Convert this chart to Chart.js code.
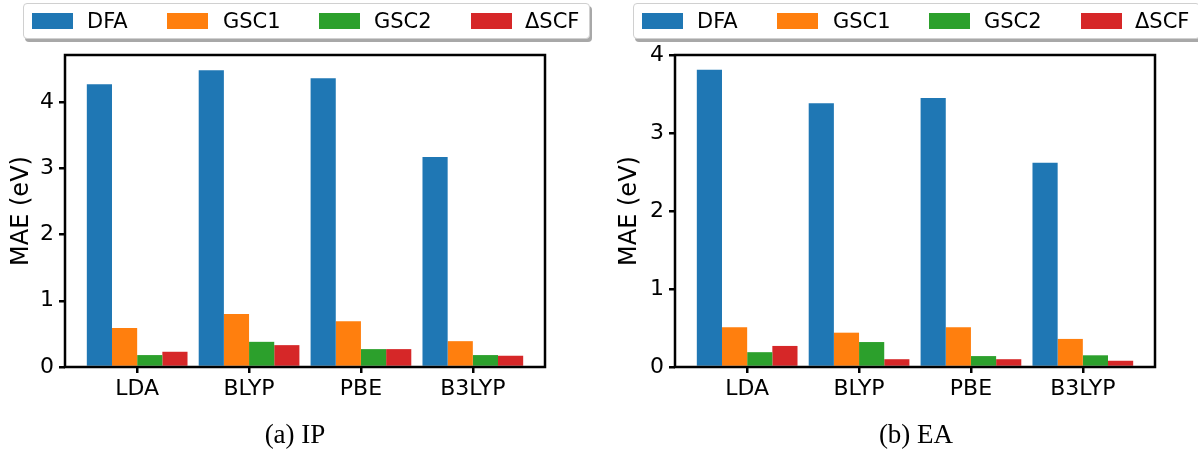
<!DOCTYPE html>
<html>
<head>
<meta charset="utf-8">
<script src="https://cdn.jsdelivr.net/npm/chart.js@4"></script>
<style>
  body { margin: 0; width: 1198px; height: 452px; background: #fff; position: relative; overflow: hidden; font-family: "DejaVu Sans", sans-serif; }
  .panel { position: absolute; top: 0; height: 452px; }
  .legend { position: absolute; top: 3px; width: 565px; height: 34px; border: 1px solid #d0d0d0; border-radius: 4px; background: #fff; box-shadow: 2px 3px 0 #a8a8a8; }
  .swatch { position: absolute; top: 9px; width: 41px; height: 16px; }
  .label { position: absolute; top: 0; line-height: 34px; font-size: 21px; color: #000; white-space: nowrap; }
  .caption { position: absolute; top: 419px; font-family: "Liberation Serif", serif; font-size: 27px; color: #000; transform: translateX(-50%); white-space: nowrap; }
</style>
</head>
<body>
<div class="panel" style="left:0;width:600px"><canvas id="ipChart"></canvas></div>
<div class="panel" style="left:600px;width:598px"><canvas id="eaChart"></canvas></div>
<div class="legend" id="ipLegend" style="left:23px"></div>
<div class="legend" id="eaLegend" style="left:633px"></div>
<div class="caption" style="left:295px">(a) IP</div>
<div class="caption" style="left:916px">(b) EA</div>
<script>
// values (eV)
const methods = ['LDA', 'BLYP', 'PBE', 'B3LYP'];
const seriesNames = ['DFA', 'GSC1', 'GSC2', 'ΔSCF'];
const seriesColors = ['#1f77b4', '#ff7f0e', '#2ca02c', '#d62728'];

const ipDFA = [4.27, 4.48, 4.36, 3.17];
const ipGSC1 = [0.59, 0.80, 0.69, 0.39];
const ipGSC2 = [0.18, 0.38, 0.27, 0.18];
const ipDSCF = [0.23, 0.33, 0.27, 0.17];

const eaDFA = [3.81, 3.38, 3.45, 2.62];
const eaGSC1 = [0.51, 0.44, 0.51, 0.36];
const eaGSC2 = [0.19, 0.32, 0.14, 0.15];
const eaDSCF = [0.27, 0.10, 0.10, 0.08];

const yTicks = [0, 1, 2, 3, 4];
const yMaxIP = 4.71;
const yMaxEA = 4.0;

// legend items placed like the matplotlib expand-mode legend
const swatchX = [8, 143, 295, 447];
const labelX = [63, 199, 350, 501];

function buildLegend(id) {
    const box = document.getElementById(id);
    seriesNames.forEach((name, i) => {
        const sw = document.createElement('div');
        sw.className = 'swatch';
        sw.style.left = swatchX[i] + 'px';
        sw.style.background = seriesColors[i];
        box.appendChild(sw);
        const lb = document.createElement('div');
        lb.className = 'label';
        lb.style.left = labelX[i] + 'px';
        lb.textContent = name;
        box.appendChild(lb);
    });
}

// black box around the plot area
const framePlugin = {
    id: 'frame',
    afterDraw(chart) {
        const { ctx, chartArea: a } = chart;
        ctx.save();
        ctx.strokeStyle = '#000';
        ctx.lineWidth = 2.5;
        ctx.strokeRect(a.left, a.top, a.right - a.left, a.bottom - a.top);
        ctx.restore();
    }
};

function makeChart(canvasId, seriesData, yMax, pad, yAxisWidth, titlePad) {
    const ctx = document.getElementById(canvasId).getContext('2d');
    return new Chart(ctx, {
        type: 'bar',
        data: {
            datasets: seriesData.map((vals, s) => ({
                label: seriesNames[s],
                data: vals.map((v, i) => ({ x: i, y: v })),
                backgroundColor: seriesColors[s],
                borderWidth: 0,
                categoryPercentage: 0.9,
                barPercentage: 1.0
            }))
        },
        options: {
            responsive: true,
            maintainAspectRatio: false,
            animation: false,
            layout: { padding: pad },
            plugins: { legend: { display: false }, tooltip: { enabled: false } },
            scales: {
                x: {
                    type: 'linear',
                    min: -0.645,
                    max: 3.645,
                    offset: false,
                    afterBuildTicks: (scale) => { scale.ticks = methods.map((m, i) => ({ value: i })); },
                    afterFit: (scale) => { scale.height = 40; scale.paddingLeft = 0; scale.paddingRight = 0; },
                    ticks: {
                        callback: (v) => methods[v],
                        color: '#000',
                        font: { family: 'DejaVu Sans', size: 22 },
                        padding: 3,
                        maxRotation: 0
                    },
                    grid: { offset: false, drawOnChartArea: false, drawTicks: true, tickLength: 6, tickColor: '#000', lineWidth: 2.5 },
                    border: { display: false }
                },
                y: {
                    min: 0,
                    max: yMax,
                    afterBuildTicks: (scale) => { scale.ticks = yTicks.map(v => ({ value: v })); },
                    afterFit: (scale) => { scale.width = yAxisWidth; scale.paddingTop = 0; scale.paddingBottom = 0; },
                    ticks: {
                        color: '#000',
                        font: { family: 'DejaVu Sans', size: 22 },
                        padding: 5
                    },
                    grid: { drawOnChartArea: false, drawTicks: true, tickLength: 6, tickColor: '#000', lineWidth: 2.5 },
                    border: { display: false },
                    title: {
                        display: true,
                        text: 'MAE (eV)',
                        color: '#000',
                        font: { family: 'DejaVu Sans', size: 24 },
                        padding: { top: titlePad, bottom: 0 }
                    }
                }
            }
        },
        plugins: [framePlugin]
    });
}

buildLegend('ipLegend');
buildLegend('eaLegend');

makeChart('ipChart', [ipDFA, ipGSC1, ipGSC2, ipDSCF], yMaxIP,
    { left: 0, top: 55, right: 55, bottom: 45 }, 65, 7);
makeChart('eaChart', [eaDFA, eaGSC1, eaGSC2, eaDSCF], yMaxEA,
    { left: 0, top: 55, right: 43, bottom: 45 }, 75, 15);
</script>
</body>
</html>
